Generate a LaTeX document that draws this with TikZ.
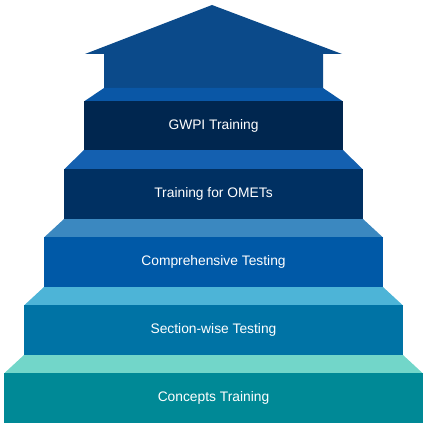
\documentclass[tikz,border=0pt]{standalone}
\usepackage{fontspec}
\setmainfont{Liberation Sans}
\definecolor{roofc}{HTML}{0B4A8A}
\definecolor{topa}{HTML}{0A57A6}\definecolor{fronta}{HTML}{00264F}
\definecolor{topb}{HTML}{1460B0}\definecolor{frontb}{HTML}{003062}
\definecolor{topc}{HTML}{3B88C0}\definecolor{frontc}{HTML}{0059A7}
\definecolor{topd}{HTML}{4DB4D7}\definecolor{frontd}{HTML}{0073A5}
\definecolor{tope}{HTML}{72D6C9}\definecolor{fronte}{HTML}{008996}
\begin{document}
\begin{tikzpicture}[x=1pt,y=-1pt,
  stepbox/.style={draw=none,inner sep=0pt,text=white,font=\fontsize{13.8}{16}\selectfont}]
\useasboundingbox (0,0) rectangle (430,430);
% roof
\fill[roofc] (212,5) -- (342,54) -- (323,54) -- (323,88.5) -- (104,88.5) -- (104,54) -- (85,54) -- cycle;
% top faces
\fill[topa] (104,88) -- (323,88) -- (343,101.5) -- (84,101.5) -- cycle;
\fill[topb] (84,150) -- (343,150) -- (363,169.5) -- (64,169.5) -- cycle;
\fill[topc] (64,219) -- (363,219) -- (383,237.5) -- (44,237.5) -- cycle;
\fill[topd] (44,287) -- (383,287) -- (403,305.5) -- (24,305.5) -- cycle;
\fill[tope] (24,355) -- (403,355) -- (423,373.5) -- (4,373.5) -- cycle;
% fronts
\node[stepbox,fill=fronta,minimum width=259pt,minimum height=49pt] (s1) at (213.5,125.5) {GWPI Training};
\node[stepbox,fill=frontb,minimum width=299pt,minimum height=50pt] (s2) at (213.5,194) {Training for OMETs};
\node[stepbox,fill=frontc,minimum width=339pt,minimum height=50pt] (s3) at (213.5,262) {Comprehensive Testing};
\node[stepbox,fill=frontd,minimum width=379pt,minimum height=50pt] (s4) at (213.5,330) {Section-wise Testing};
\node[stepbox,fill=fronte,minimum width=419pt,minimum height=50pt] (s5) at (213.5,398) {Concepts Training};
\end{tikzpicture}
\end{document}
